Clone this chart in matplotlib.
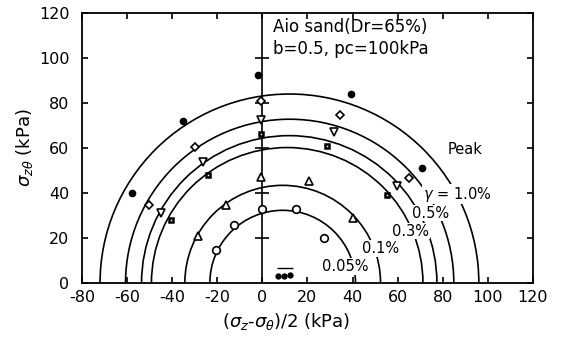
import matplotlib
matplotlib.use("Agg")
import matplotlib.pyplot as plt
from matplotlib.patches import Arc

plt.rcParams["axes.unicode_minus"] = False

# strain contours (circles on the stress plane), outermost first
levels = ["Peak", "1.0%", "0.5%", "0.3%", "0.1%", "0.05%"]
circle_center = [12.0, 12.1, 11.9, 11.0, 9.0, 9.0]
circle_radius = [84.0, 72.8, 65.5, 60.2, 43.4, 32.3]

# test points, one marker type per strain level
peak_x = [-58.0, -35.4, -1.9, 39.2, 71.0]
peak_y = [39.8, 71.8, 92.6, 84.2, 51.3]
g10_x = [-50.2, -29.9, -0.8, 34.4, 65.1]
g10_y = [34.6, 60.6, 80.7, 74.5, 46.5]
g05_x = [-45.0, -26.3, -0.8, 31.8, 59.5]
g05_y = [30.9, 53.9, 72.5, 67.1, 43.1]
g03_x = [-40.6, -24.0, -0.8, 28.7, 55.1]
g03_y = [28.2, 48.0, 66.3, 61.1, 39.1]
g01_x = [-28.5, -16.2, -0.8, 20.8, 40.3]
g01_y = [20.8, 34.6, 47.0, 45.3, 29.1]
g005_x = [-20.6, -12.6, -0.2, 14.9, 27.3]
g005_y = [14.8, 25.7, 32.7, 33.1, 20.2]

# initial state cluster near origin
init_x = [6.9, 9.5, 12.2]
init_y = [2.9, 3.2, 3.6]

zero_axis_ticks = [20, 40, 60, 80, 100]

curve_labels = ["Peak", r"$\gamma$ = 1.0%", "0.5%", "0.3%", "0.1%", "0.05%"]
label_pos = [(82.3, 59.2), (71.2, 39.5), (66.3, 31.0), (57.4, 23.0), (44.1, 15.4), (26.4, 7.4)]

fig = plt.figure(figsize=(5.61, 3.43), dpi=100)
ax = fig.add_axes([0.1462, 0.175, 0.8038, 0.787])

for c, r in zip(circle_center, circle_radius):
    ax.add_patch(Arc((c, 0), 2 * r, 2 * r, theta1=0, theta2=180, color="black", lw=1.2, zorder=2))

# vertical axis at zero with its own small ticks
ax.axvline(0, color="black", lw=1.2, zorder=2)
ax.plot([0] * len(zero_axis_ticks), zero_axis_ticks, ls="none", marker="_", ms=10, mew=1.2, color="black", zorder=2)

mk = dict(ls="none", color="black", zorder=4)
ax.plot(peak_x, peak_y, marker="o", ms=4.5, **mk)
ax.plot(g10_x, g10_y, marker="D", ms=4.5, mfc="white", mew=1.2, **mk)
ax.plot(g05_x, g05_y, marker="v", ms=5.5, mfc="white", mew=1.2, **mk)
ax.plot(g03_x, g03_y, marker="s", ms=3.5, mfc="white", mew=1.8, **mk)
ax.plot(g01_x, g01_y, marker="^", ms=5.5, mfc="white", mew=1.2, **mk)
ax.plot(g005_x, g005_y, marker="o", ms=5.5, mfc="white", mew=1.2, **mk)
ax.plot(init_x, init_y, marker="o", ms=3.5, **mk)
ax.plot([9.9], [6.8], marker="_", ms=11, mew=1.0, **mk)

for txt, (lx, ly) in zip(curve_labels, label_pos):
    ax.text(lx, ly, txt, ha="left", va="center", fontsize=10.5, zorder=3,
            bbox=dict(facecolor="white", edgecolor="none", pad=0.5))

ax.text(4.7, 113.6, "Aio sand(Dr=65%)", ha="left", va="center", fontsize=12)
ax.text(4.7, 103.8, "b=0.5, pc=100kPa", ha="left", va="center", fontsize=12)

ax.set_xlim(-80, 120)
ax.set_ylim(0, 120)
ax.set_xticks(range(-80, 121, 20))
ax.set_yticks(range(0, 121, 20))
ax.tick_params(direction="in", top=True, right=True, length=4, width=1.2, labelsize=11.5)
ax.tick_params(axis="x", pad=5)
ax.tick_params(axis="y", pad=9)
for s in ax.spines.values():
    s.set_linewidth(1.3)

ax.set_xlabel(r"($\sigma_z$-$\sigma_\theta$)/2 (kPa)", fontsize=13)
ax.xaxis.set_label_coords(0.452, -0.105)
ax.set_ylabel(r"$\sigma_{z\theta}$ (kPa)", fontsize=13)
ax.yaxis.set_label_coords(-0.105, 0.5)

fig.savefig("out.png", dpi=100)
